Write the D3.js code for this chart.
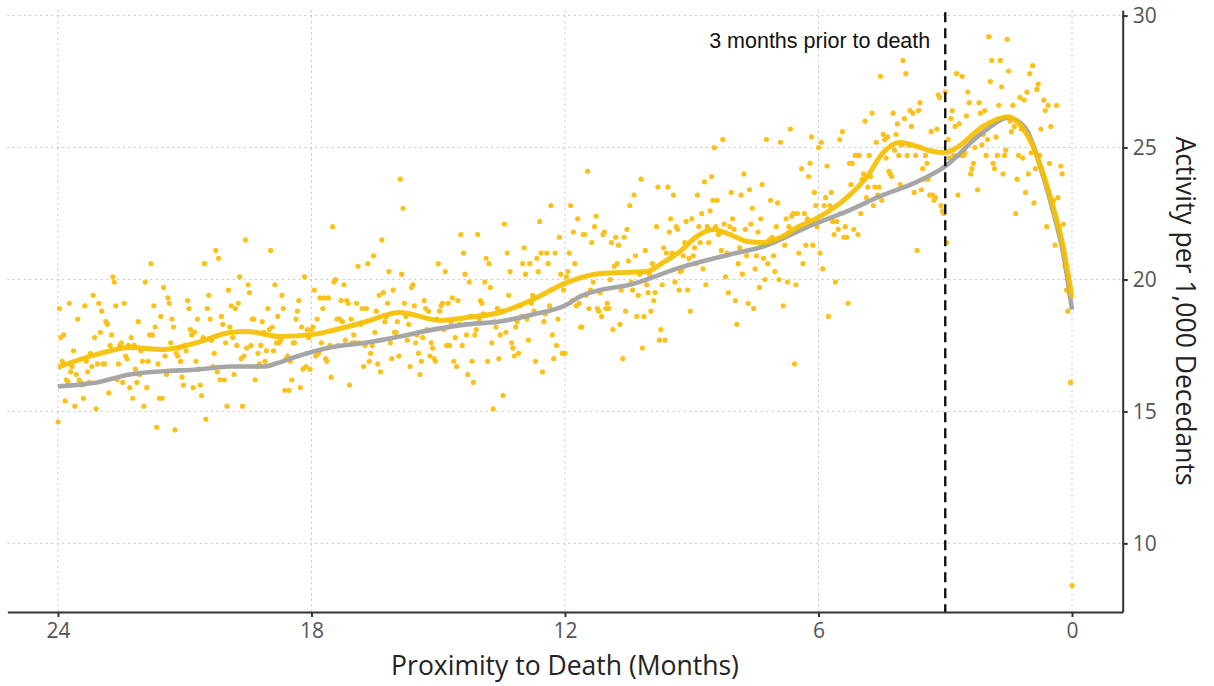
<!DOCTYPE html>
<html><head><meta charset="utf-8">
<script src="https://cdn.jsdelivr.net/npm/d3@7"></script>
<style>body{margin:0;background:#fff}</style>
</head><body><svg id="chart" width="1214" height="686"></svg>
<script>
// ---- data ----
const xTicks = [24, 18, 12, 6, 0];
const yTicks = [10, 15, 20, 25, 30];
// daily activity, one row per month, starting 24 months before death (30 days per row)
const dailyActivity = [
 [14.6,18.9,17.8,16.9,17.9,15.4,16.2,16.1,19.1,16.5,16.7,17.3,15.2,16.4,18.5,16.2,16.1,16.0,15.5,19.0,16.9,16.5,16.1,17.2,16.7,19.4,17.8,15.1,16.8,19.1],
 [18.0,18.8,16.8,16.8,18.4,18.3,15.7,17.5,17.9,20.1,19.9,19.0,16.2,16.8,17.5,17.6,16.1,19.1,17.1,17.0,17.5,15.9,17.8,15.5,17.5,16.6,16.1,18.4,16.4,17.3],
 [16.9,15.2,19.9,15.9,16.9,17.9,20.6,17.9,19.0,18.2,14.4,16.8,15.5,18.6,15.5,19.7,17.1,16.4,19.3,19.1,17.6,18.5,18.2,14.3,17.2,17.1,17.4,16.9,16.3,16.0],
 [17.5,17.3,19.2,18.9,18.1,17.9,15.9,18.0,16.9,18.5,16.6,16.0,15.6,17.8,20.6,14.7,18.9,19.4,18.5,17.7,16.7,17.2,21.1,16.5,20.8,16.2,18.6,18.3,16.2,17.6],
 [15.2,19.6,18.2,19.0,17.8,16.4,18.9,17.5,19.1,20.1,17.0,15.2,17.1,21.5,17.4,19.8,19.5,17.5,18.5,18.5,16.2,16.7,17.2,16.8,17.5,18.4,18.0,16.9,17.3,18.9],
 [18.1,21.1,18.2,17.3,19.8,17.6,18.6,17.6,17.7,19.4,18.9,15.8,17.0,17.1,15.8,16.9,16.2,17.6,17.6,18.5,18.8,19.2,15.9,18.2,16.6,20.1,16.7,18.1,17.8,16.6],
 [18.1,18.2,19.6,17.1,18.5,17.2,19.3,17.6,18.9,19.3,17.0,16.9,19.3,17.5,16.3,22.0,19.9,20.0,18.5,17.5,18.5,19.2,18.4,19.8,17.7,19.2,19.1,16.0,18.5,17.6],
 [17.9,17.6,19.1,20.5,17.6,18.3,18.9,16.7,17.5,18.9,20.6,16.9,17.2,17.5,20.9,18.0,18.8,16.8,19.4,16.5,21.5,19.5,18.4,18.6,19.1,20.3,17.6,17.0,19.6,18.0],
 [18.0,18.4,17.1,23.8,20.2,22.7,19.1,18.6,17.7,18.3,16.7,19.7,19.8,19.0,17.6,17.9,17.2,16.4,16.9,17.8,19.2,18.9,18.1,18.8,17.1,17.6,17.4,17.0,16.9,18.5],
 [20.6,18.8,19.0,19.1,18.1,20.3,17.5,19.1,17.5,18.4,19.3,16.9,17.8,16.7,19.2,18.3,21.7,17.5,21.0,20.2,17.9,16.4,19.9,18.6,16.9,16.1,17.9,18.1,21.7,18.5],
 [19.2,19.1,18.7,19.9,20.8,16.9,20.6,19.7,17.6,15.1,18.4,18.2,18.9,17.0,17.9,18.8,15.6,22.1,18.0,21.0,19.4,20.3,17.6,17.4,17.1,18.2,18.4,17.2,19.0,18.6],
 [20.6,21.2,20.2,18.5,17.7,20.6,19.1,19.4,18.8,16.9,20.8,20.3,22.2,21.0,16.5,18.4,18.7,21.0,20.6,19.0,22.8,17.9,17.0,21.0,17.5,18.5,21.6,20.2,17.2,19.6],
 [17.2,20.1,20.3,21.0,22.8,19.2,21.8,20.6,19.0,22.3,19.1,18.2,18.2,21.7,21.7,19.4,24.1,18.9,19.6,21.4,19.9,22.0,22.4,18.9,18.8,19.5,18.6,21.7,21.8,18.9],
 [19.1,18.9,20.0,21.4,18.1,20.5,21.6,20.6,21.3,18.3,19.6,17.0,21.6,18.8,21.9,20.7,22.8,19.9,19.6,23.2,20.9,18.6,19.4,20.2,23.8,17.4,18.6,21.1,19.8,19.5],
 [20.2,18.8,20.6,19.2,19.5,22.0,23.5,17.7,18.1,19.8,21.2,17.7,21.0,23.5,21.8,22.3,21.0,23.2,19.9,22.0,21.9,19.6,20.3,20.4,20.9,21.4,22.2,19.6,20.8,18.8],
 [22.3,20.9,21.2,20.6,23.2,22.0,21.4,22.5,20.4,23.7,19.8,22.0,21.4,22.6,23.9,23.0,25.0,22.0,23.0,21.7,21.8,21.1,25.3,22.1,20.1,21.0,19.5,22.0,23.3,22.3],
 [21.9,19.2,18.3,20.6,21.2,23.2,20.2,24.0,21.9,20.9,19.1,23.4,22.1,22.7,18.9,20.4,20.9,21.8,19.7,22.3,23.6,20.8,20.0,25.3,20.6,21.5,23.0,21.6,20.9,20.3],
 [22.0,22.9,20.0,25.2,21.6,19.0,21.3,22.3,19.9,22.0,25.7,22.4,22.5,16.8,19.8,22.5,21.0,21.9,24.2,20.6,22.5,21.3,22.3,23.9,24.4,25.4,21.3,23.3,22.8,22.0],
 [25.0,21.0,25.2,20.4,22.8,23.1,24.3,18.6,22.8,23.3,22.2,21.7,19.9,22.2,21.9,25.3,22.5,25.6,21.6,22.0,21.6,19.1,24.4,23.6,24.4,21.9,24.7,24.7,21.7,24.7],
 [22.5,23.8,24.0,26.0,23.1,23.5,24.7,23.9,26.3,22.8,23.5,25.2,23.2,23.5,27.7,23.0,25.5,25.3,24.6,25.4,24.1,24.0,23.9,26.3,24.9,25.5,25.9,24.7,23.6,25.1],
 [28.3,26.1,27.8,24.7,25.1,26.4,25.8,26.3,23.3,24.7,21.1,26.4,26.7,23.4,24.2,23.8,24.7,24.4,23.8,23.2,25.6,23.2,23.0,23.1,25.7,27.0,26.9,22.8,22.6,22.5],
 [27.1,21.4,25.3,24.6,26.1,26.4,24.7,25.8,27.8,23.2,25.9,24.7,27.7,24.7,24.8,26.2,27.1,26.7,24.0,24.2,24.4,25.0,25.4,23.4,26.7,26.3,25.1,25.5,26.4,24.7],
 [25.3,29.2,27.5,28.3,24.4,24.2,25.4,24.7,26.6,28.3,27.3,24.0,24.7,24.9,29.1,27.9,26.0,25.6,26.6,25.8,22.5,23.8,24.7,26.9,25.7,24.6,26.8,23.3,27.1,24.0],
 [27.8,24.8,28.1,22.9,24.2,27.2,27.4,24.7,25.7,24.0,26.8,26.4,22.0,26.6,24.4,25.8,22.7,23.0,21.3,26.6,23.1,22.0,24.3,24.0,22.1,20.5,19.6,18.8,19.5,16.1]
];
const deathDayActivity = 8.4;
// smoothed trend of the activity (yellow)
const trendMonths = [24.0,23.08,22.30,21.51,20.71,19.93,19.53,18.75,17.96,17.56,16.69,15.91,14.96,14.32,13.54,12.76,11.95,11.17,10.06,9.68,9.28,8.88,8.50,8.09,7.69,7.31,6.91,6.51,5.96,5.33,4.85,4.47,4.07,3.67,3.29,3.01,2.72,2.11,1.51,1.18,0.92,0.69,0.45,0.21,0.0];
const trendActivity = [16.67,17.16,17.42,17.35,17.61,17.99,18.03,17.84,17.92,18.05,18.41,18.75,18.45,18.56,18.75,19.24,19.89,20.23,20.30,20.64,21.06,21.63,21.89,21.70,21.44,21.40,21.59,21.97,22.39,23.10,23.90,24.81,25.19,25.04,24.85,24.81,25.00,25.80,26.17,25.76,25.04,24.05,22.77,21.25,19.30];
// comparison trend (grey)
const baseMonths = [24.0,23.08,22.30,21.51,20.71,19.93,19.14,18.75,18.35,17.56,16.69,15.91,15.13,14.32,13.54,12.76,11.95,11.64,11.17,10.46,9.28,8.09,7.31,6.13,5.33,4.55,3.67,3.01,2.11,1.51,1.11,0.70,0.45,0.21,0.0];
const baseActivity = [15.95,16.10,16.40,16.52,16.59,16.70,16.70,16.86,17.08,17.42,17.61,17.84,18.10,18.30,18.41,18.67,19.05,19.36,19.60,19.80,20.45,20.95,21.25,22.08,22.58,23.15,23.70,24.28,25.57,26.13,25.76,24.00,22.60,21.00,18.86];
const markerMonth = 3;
const markerLabel = "3 months prior to death";
const xTitle = "Proximity to Death (Months)";
const yTitle = "Activity per 1,000 Decedants";

// ---- build ----
const points = [];
dailyActivity.forEach((row, r) => row.forEach((v, c) => points.push({m: 24 - (r * 30 + c) / 30, v})));
points.push({m: 0, v: deathDayActivity});
const trend = trendMonths.map((m, i) => ({m, v: trendActivity[i]}));
const base = baseMonths.map((m, i) => ({m, v: baseActivity[i]}));

const svg = d3.select("#chart");
const x = d3.scaleLinear().domain([25.2, -1.2]).range([7.3, 1122.7]);
const y = d3.scaleLinear().domain([7.4, 30.2]).range([612, 10.3]);
const [x0, x1] = x.range();
const [yb, yt] = y.range();
const font = "'Open Sans', 'Noto Sans', sans-serif";

// grid
const grid = svg.append("g").attr("stroke", "#c4c4c4").attr("stroke-width", 1).attr("stroke-dasharray", "2,3.5");
grid.selectAll(".gx").data(xTicks).join("line")
  .attr("x1", d => x(d)).attr("x2", d => x(d)).attr("y1", yt).attr("y2", yb);
grid.selectAll(".gy").data(yTicks).join("line")
  .attr("x1", x0).attr("x2", x1).attr("y1", d => y(d)).attr("y2", d => y(d));

// scatter
svg.append("g").selectAll("circle").data(points).join("circle")
  .attr("cx", d => x(d.m)).attr("cy", d => y(d.v)).attr("r", 2.6)
  .attr("fill", "#fbc11a");

// lines
const line = d3.line().x(d => x(d.m)).y(d => y(d.v)).curve(d3.curveMonotoneX);
svg.append("path").datum(base).attr("d", line).attr("fill", "none")
  .attr("stroke", "#a6a6a6").attr("stroke-width", 4.6).attr("stroke-linejoin", "round");
svg.append("path").datum(trend).attr("d", line).attr("fill", "none")
  .attr("stroke", "#f5bf00").attr("stroke-width", 5).attr("stroke-opacity", 0.92).attr("stroke-linejoin", "round");

// marker
svg.append("line").attr("x1", x(markerMonth)).attr("x2", x(markerMonth))
  .attr("y1", yt + 2).attr("y2", yb).attr("stroke", "#111").attr("stroke-width", 2.4)
  .attr("stroke-dasharray", "10,6");
svg.append("text").attr("x", x(markerMonth) - 15).attr("y", 48).attr("text-anchor", "end")
  .attr("font-family", "'Liberation Sans', Arial, sans-serif").attr("font-size", 21.5).attr("fill", "#111")
  .text(markerLabel);

// axes
const xAxis = svg.append("g").attr("transform", `translate(0,${yb})`)
  .call(d3.axisBottom(x).tickValues(xTicks).tickSizeInner(5).tickSizeOuter(0).tickPadding(6));
const yAxis = svg.append("g").attr("transform", `translate(${x1},0)`)
  .call(d3.axisRight(y).tickValues(yTicks).tickSizeInner(5).tickSizeOuter(0).tickPadding(5));
[xAxis, yAxis].forEach(g => {
  g.select(".domain").attr("stroke", "#333").attr("stroke-width", 2);
  g.selectAll(".tick line").attr("stroke", "#333").attr("stroke-width", 2);
  g.selectAll(".tick text").attr("fill", "#555").attr("font-size", 21).attr("font-family", font);
});

// titles
svg.append("text").attr("x", x(12)).attr("y", 675).attr("text-anchor", "middle")
  .attr("font-family", font).attr("font-size", 26.5).attr("fill", "#222").text(xTitle);
svg.append("text").attr("transform", `translate(1176,311) rotate(90)`).attr("text-anchor", "middle")
  .attr("font-family", font).attr("font-size", 26.5).attr("fill", "#222").text(yTitle);
</script></body></html>
